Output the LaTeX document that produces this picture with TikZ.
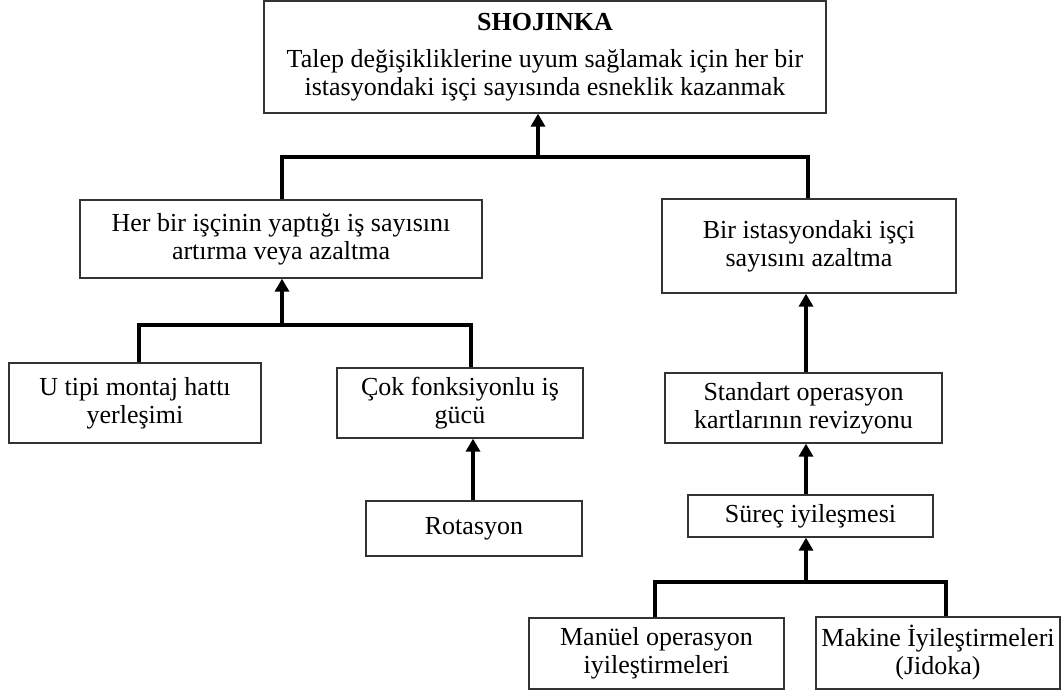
\documentclass[tikz,border=0pt]{standalone}
\usepackage{fontspec}
\setmainfont{Liberation Serif}
\usetikzlibrary{arrows.meta}
\begin{document}
\begin{tikzpicture}[x=1pt,y=-1pt,
  box/.style={draw=black!80, line width=1.3pt, fill=white, inner sep=0pt,
    align=center, font=\fontsize{26}{28}\selectfont},
  link/.style={line width=3.3pt, draw=black},
  uparrow/.style={link, -{Triangle[length=13pt,width=14pt]}}]
\useasboundingbox (0,0) rectangle (1063,695);
\fill[white] (0,0) rectangle (1063,695);

% boxes
\node[box, minimum width=562pt, minimum height=112pt] (top) at (545,57)
  {\textbf{SHOJINKA}\\[9pt]Talep değişikliklerine uyum sağlamak için her bir\\istasyondaki işçi sayısında esneklik kazanmak};
\node[box, minimum width=402pt, minimum height=78pt] (lm) at (281,239)
  {Her bir işçinin yaptığı iş sayısını\\artırma veya azaltma};
\node[box, minimum width=294pt, minimum height=94pt] (rm) at (809,246)
  {Bir istasyondaki işçi\\sayısını azaltma};
\node[box, minimum width=252pt, minimum height=80pt] (ut) at (135,403)
  {U tipi montaj hattı\\yerleşimi};
\node[box, minimum width=246pt, minimum height=70pt] (cok) at (460,403)
  {Çok fonksiyonlu iş\\gücü};
\node[box, minimum width=216pt, minimum height=55pt] (rot) at (474,528.5)
  {Rotasyon};
\node[box, minimum width=277pt, minimum height=70pt] (std) at (803.5,408)
  {Standart operasyon\\kartlarının revizyonu};
\node[box, minimum width=245pt, minimum height=42pt] (sur) at (810.5,516)
  {Süreç iyileşmesi};
\node[box, minimum width=255pt, minimum height=71pt] (man) at (656.5,653.5)
  {Manüel operasyon\\iyileştirmeleri};
\node[box, minimum width=244pt, minimum height=72pt] (mak) at (938,653)
  {Makine İyileştirmeleri\\(Jidoka)};

% junction points of the connectors
\coordinate (j0) at (538,157);
\coordinate (j0l) at (282,157);
\coordinate (j0r) at (808,157);
\coordinate (j1) at (282,325);
\coordinate (j1l) at (139,325);
\coordinate (j1r) at (471,325);
\coordinate (j2) at (473,0);
\coordinate (j3) at (806,0);
\coordinate (j4) at (806,582);
\coordinate (j4l) at (655,582);
\coordinate (j4r) at (946,582);

% top level
\draw[link] (j0l |- lm.north) -- (j0l) -- (j0r) -- (j0r |- rm.north);
\draw[uparrow] (j0) -- (j0 |- top.south);

% left branch
\draw[link] (j1l |- ut.north) -- (j1l) -- (j1r) -- (j1r |- cok.north);
\draw[uparrow] (j1) -- (j1 |- lm.south);
\draw[uparrow] (j2 |- rot.north) -- (j2 |- cok.south);

% right branch
\draw[uparrow] (j3 |- std.north) -- (j3 |- rm.south);
\draw[uparrow] (j3 |- sur.north) -- (j3 |- std.south);
\draw[link] (j4l |- man.north) -- (j4l) -- (j4r) -- (j4r |- mak.north);
\draw[uparrow] (j4) -- (j4 |- sur.south);
\end{tikzpicture}
\end{document}
